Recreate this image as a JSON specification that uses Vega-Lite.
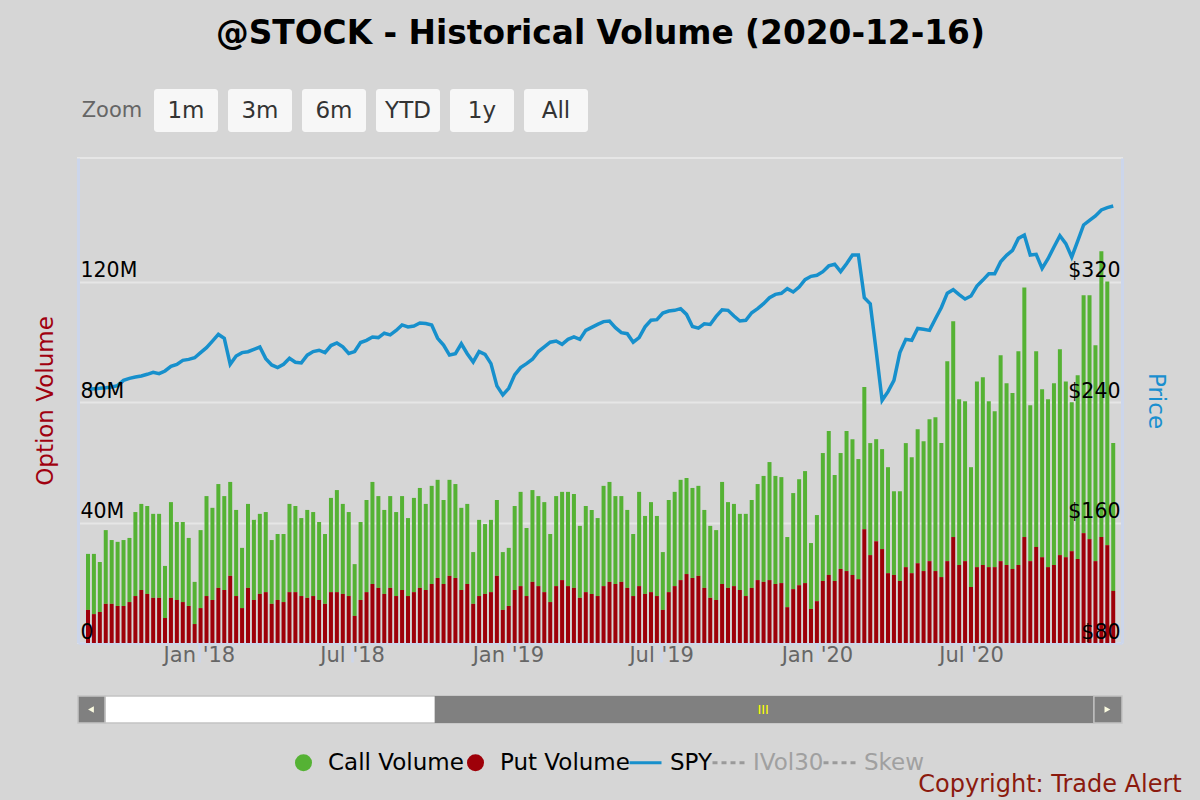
{
  "$schema": "https://vega.github.io/schema/vega-lite/v6.json",
  "background": "#d6d6d6",
  "padding": {"left": 33, "top": 18, "right": 20, "bottom": 6},
  "title": {
    "text": "@STOCK - Historical Volume (2020-12-16)",
    "fontSize": 32.8, "fontWeight": "bold", "color": "#000000",
    "anchor": "middle", "frame": "bounds", "offset": 38, "dx": -7
  },
  "datasets": {
    "weekly": [
      {"date": "2017-08-23", "call": 18.6, "put": 11.0, "spy": 248.5},
      {"date": "2017-08-30", "call": 20.0, "put": 9.6, "spy": 248.9},
      {"date": "2017-09-06", "call": 16.6, "put": 10.3, "spy": 249.2},
      {"date": "2017-09-13", "call": 24.5, "put": 13.0, "spy": 249.6},
      {"date": "2017-09-20", "call": 21.2, "put": 13.0, "spy": 250.1},
      {"date": "2017-09-27", "call": 21.3, "put": 12.3, "spy": 251.0},
      {"date": "2017-10-04", "call": 21.9, "put": 12.3, "spy": 254.5},
      {"date": "2017-10-11", "call": 21.3, "put": 13.6, "spy": 255.8},
      {"date": "2017-10-18", "call": 27.9, "put": 15.6, "spy": 256.7},
      {"date": "2017-10-25", "call": 28.6, "put": 17.6, "spy": 257.4},
      {"date": "2017-11-01", "call": 29.2, "put": 16.3, "spy": 258.5},
      {"date": "2017-11-08", "call": 27.9, "put": 15.0, "spy": 259.8},
      {"date": "2017-11-15", "call": 27.9, "put": 15.0, "spy": 258.9},
      {"date": "2017-11-22", "call": 17.3, "put": 8.3, "spy": 260.7},
      {"date": "2017-11-29", "call": 31.8, "put": 15.0, "spy": 263.8},
      {"date": "2017-12-06", "call": 25.9, "put": 14.3, "spy": 265.1},
      {"date": "2017-12-13", "call": 26.6, "put": 13.6, "spy": 267.8},
      {"date": "2017-12-20", "call": 22.6, "put": 12.3, "spy": 268.4},
      {"date": "2017-12-27", "call": 14.0, "put": 6.3, "spy": 269.5},
      {"date": "2018-01-03", "call": 25.9, "put": 11.6, "spy": 272.9},
      {"date": "2018-01-10", "call": 33.2, "put": 15.6, "spy": 276.2},
      {"date": "2018-01-17", "call": 30.6, "put": 14.3, "spy": 280.6},
      {"date": "2018-01-24", "call": 34.5, "put": 18.3, "spy": 285.0},
      {"date": "2018-01-31", "call": 31.2, "put": 17.6, "spy": 282.4},
      {"date": "2018-02-07", "call": 31.2, "put": 22.3, "spy": 265.1},
      {"date": "2018-02-14", "call": 28.6, "put": 15.6, "spy": 270.6},
      {"date": "2018-02-21", "call": 20.0, "put": 11.6, "spy": 272.9},
      {"date": "2018-02-28", "call": 27.9, "put": 18.3, "spy": 273.5},
      {"date": "2018-03-07", "call": 26.6, "put": 14.3, "spy": 275.1},
      {"date": "2018-03-14", "call": 26.6, "put": 16.3, "spy": 276.6},
      {"date": "2018-03-21", "call": 26.6, "put": 16.9, "spy": 268.9},
      {"date": "2018-03-28", "call": 21.2, "put": 13.0, "spy": 264.7},
      {"date": "2018-04-04", "call": 21.9, "put": 14.3, "spy": 263.0},
      {"date": "2018-04-11", "call": 22.6, "put": 13.6, "spy": 265.2},
      {"date": "2018-04-18", "call": 29.3, "put": 16.9, "spy": 269.2},
      {"date": "2018-04-25", "call": 28.6, "put": 16.9, "spy": 266.5},
      {"date": "2018-05-02", "call": 25.9, "put": 15.6, "spy": 266.1},
      {"date": "2018-05-09", "call": 29.2, "put": 15.0, "spy": 271.2},
      {"date": "2018-05-16", "call": 27.9, "put": 15.6, "spy": 273.6},
      {"date": "2018-05-23", "call": 25.9, "put": 14.3, "spy": 274.5},
      {"date": "2018-05-30", "call": 23.2, "put": 13.0, "spy": 272.9},
      {"date": "2018-06-06", "call": 31.3, "put": 16.9, "spy": 277.6},
      {"date": "2018-06-13", "call": 33.9, "put": 16.9, "spy": 279.3},
      {"date": "2018-06-20", "call": 29.9, "put": 16.3, "spy": 276.7},
      {"date": "2018-06-27", "call": 27.9, "put": 15.6, "spy": 272.3},
      {"date": "2018-07-04", "call": 17.2, "put": 9.0, "spy": 273.6},
      {"date": "2018-07-11", "call": 25.9, "put": 14.3, "spy": 279.6},
      {"date": "2018-07-18", "call": 30.6, "put": 16.9, "spy": 281.1},
      {"date": "2018-07-25", "call": 33.9, "put": 19.6, "spy": 283.3},
      {"date": "2018-08-01", "call": 30.5, "put": 18.3, "spy": 282.9},
      {"date": "2018-08-08", "call": 27.9, "put": 16.3, "spy": 285.8},
      {"date": "2018-08-15", "call": 30.5, "put": 18.3, "spy": 284.7},
      {"date": "2018-08-22", "call": 27.9, "put": 15.6, "spy": 287.6},
      {"date": "2018-08-29", "call": 31.2, "put": 17.6, "spy": 291.3},
      {"date": "2018-09-05", "call": 25.9, "put": 15.6, "spy": 290.0},
      {"date": "2018-09-12", "call": 31.3, "put": 16.9, "spy": 290.6},
      {"date": "2018-09-19", "call": 33.2, "put": 18.3, "spy": 292.6},
      {"date": "2018-09-26", "call": 28.6, "put": 17.6, "spy": 292.2},
      {"date": "2018-10-03", "call": 32.6, "put": 19.6, "spy": 291.3},
      {"date": "2018-10-10", "call": 32.6, "put": 21.6, "spy": 282.4},
      {"date": "2018-10-17", "call": 27.9, "put": 19.6, "spy": 277.9},
      {"date": "2018-10-24", "call": 31.9, "put": 22.3, "spy": 271.3},
      {"date": "2018-10-31", "call": 31.2, "put": 21.6, "spy": 272.2},
      {"date": "2018-11-07", "call": 27.3, "put": 17.6, "spy": 278.8},
      {"date": "2018-11-14", "call": 26.6, "put": 19.6, "spy": 272.2},
      {"date": "2018-11-21", "call": 17.2, "put": 13.0, "spy": 266.7},
      {"date": "2018-11-28", "call": 25.3, "put": 15.6, "spy": 273.6},
      {"date": "2018-12-05", "call": 23.2, "put": 16.3, "spy": 271.8},
      {"date": "2018-12-12", "call": 24.0, "put": 16.9, "spy": 265.6},
      {"date": "2018-12-19", "call": 25.2, "put": 22.3, "spy": 250.8},
      {"date": "2018-12-26", "call": 19.2, "put": 11.0, "spy": 244.8},
      {"date": "2019-01-02", "call": 19.3, "put": 12.3, "spy": 249.2},
      {"date": "2019-01-09", "call": 27.9, "put": 17.6, "spy": 258.1},
      {"date": "2019-01-16", "call": 31.3, "put": 18.9, "spy": 263.0},
      {"date": "2019-01-23", "call": 22.6, "put": 15.6, "spy": 265.6},
      {"date": "2019-01-30", "call": 30.5, "put": 20.3, "spy": 268.5},
      {"date": "2019-02-06", "call": 29.9, "put": 18.9, "spy": 273.6},
      {"date": "2019-02-13", "call": 29.9, "put": 16.9, "spy": 276.7},
      {"date": "2019-02-20", "call": 22.6, "put": 13.6, "spy": 279.8},
      {"date": "2019-02-27", "call": 29.9, "put": 18.9, "spy": 280.6},
      {"date": "2019-03-06", "call": 29.3, "put": 20.9, "spy": 278.4},
      {"date": "2019-03-13", "call": 31.3, "put": 18.9, "spy": 281.7},
      {"date": "2019-03-20", "call": 31.2, "put": 18.3, "spy": 283.3},
      {"date": "2019-03-27", "call": 23.9, "put": 15.0, "spy": 281.7},
      {"date": "2019-04-03", "call": 28.6, "put": 16.9, "spy": 287.7},
      {"date": "2019-04-10", "call": 27.9, "put": 16.3, "spy": 289.7},
      {"date": "2019-04-17", "call": 25.9, "put": 15.6, "spy": 291.7},
      {"date": "2019-04-24", "call": 33.3, "put": 18.9, "spy": 293.5},
      {"date": "2019-05-01", "call": 33.2, "put": 20.3, "spy": 293.9},
      {"date": "2019-05-08", "call": 29.2, "put": 19.6, "spy": 289.5},
      {"date": "2019-05-15", "call": 28.5, "put": 20.3, "spy": 286.2},
      {"date": "2019-05-22", "call": 25.9, "put": 18.3, "spy": 285.5},
      {"date": "2019-05-29", "call": 20.6, "put": 15.6, "spy": 279.8},
      {"date": "2019-06-05", "call": 31.3, "put": 18.9, "spy": 282.9},
      {"date": "2019-06-12", "call": 25.9, "put": 16.3, "spy": 290.0},
      {"date": "2019-06-19", "call": 29.9, "put": 16.9, "spy": 294.4},
      {"date": "2019-06-26", "call": 26.6, "put": 15.6, "spy": 294.8},
      {"date": "2019-07-03", "call": 19.2, "put": 11.0, "spy": 299.2},
      {"date": "2019-07-10", "call": 30.6, "put": 16.9, "spy": 300.5},
      {"date": "2019-07-17", "call": 31.3, "put": 18.9, "spy": 301.0},
      {"date": "2019-07-24", "call": 33.3, "put": 20.9, "spy": 302.1},
      {"date": "2019-07-31", "call": 31.9, "put": 22.9, "spy": 298.3},
      {"date": "2019-08-07", "call": 29.9, "put": 21.6, "spy": 290.3},
      {"date": "2019-08-14", "call": 29.9, "put": 22.3, "spy": 289.2},
      {"date": "2019-08-21", "call": 25.9, "put": 18.3, "spy": 292.1},
      {"date": "2019-08-28", "call": 23.9, "put": 15.0, "spy": 291.6},
      {"date": "2019-09-04", "call": 23.2, "put": 14.3, "spy": 297.0},
      {"date": "2019-09-11", "call": 33.9, "put": 19.6, "spy": 301.4},
      {"date": "2019-09-18", "call": 28.5, "put": 18.3, "spy": 301.0},
      {"date": "2019-09-25", "call": 27.3, "put": 18.9, "spy": 297.2},
      {"date": "2019-10-02", "call": 25.3, "put": 17.6, "spy": 293.9},
      {"date": "2019-10-09", "call": 27.3, "put": 15.6, "spy": 294.4},
      {"date": "2019-10-16", "call": 29.2, "put": 18.3, "spy": 299.4},
      {"date": "2019-10-23", "call": 31.9, "put": 20.9, "spy": 302.1},
      {"date": "2019-10-30", "call": 35.2, "put": 20.3, "spy": 305.4},
      {"date": "2019-11-06", "call": 39.2, "put": 20.9, "spy": 309.4},
      {"date": "2019-11-13", "call": 35.9, "put": 19.6, "spy": 311.6},
      {"date": "2019-11-20", "call": 35.2, "put": 19.9, "spy": 312.3},
      {"date": "2019-11-27", "call": 23.3, "put": 11.9, "spy": 315.4},
      {"date": "2019-12-04", "call": 31.9, "put": 17.9, "spy": 313.2},
      {"date": "2019-12-11", "call": 35.2, "put": 19.2, "spy": 316.5},
      {"date": "2019-12-18", "call": 37.2, "put": 19.9, "spy": 321.4},
      {"date": "2019-12-25", "call": 21.9, "put": 11.3, "spy": 323.6},
      {"date": "2020-01-01", "call": 28.6, "put": 13.9, "spy": 324.3},
      {"date": "2020-01-08", "call": 42.5, "put": 20.6, "spy": 326.7},
      {"date": "2020-01-15", "call": 47.8, "put": 22.6, "spy": 330.5},
      {"date": "2020-01-22", "call": 35.2, "put": 20.6, "spy": 331.6},
      {"date": "2020-01-29", "call": 38.5, "put": 24.6, "spy": 326.7},
      {"date": "2020-02-05", "call": 46.5, "put": 23.9, "spy": 332.0},
      {"date": "2020-02-12", "call": 45.1, "put": 22.6, "spy": 337.8},
      {"date": "2020-02-19", "call": 39.9, "put": 21.2, "spy": 337.8},
      {"date": "2020-02-26", "call": 47.2, "put": 37.8, "spy": 309.4},
      {"date": "2020-03-04", "call": 37.2, "put": 29.2, "spy": 305.4},
      {"date": "2020-03-11", "call": 33.9, "put": 33.8, "spy": 274.0},
      {"date": "2020-03-18", "call": 33.2, "put": 31.2, "spy": 241.2},
      {"date": "2020-03-25", "call": 35.2, "put": 23.2, "spy": 247.0},
      {"date": "2020-04-01", "call": 27.8, "put": 22.6, "spy": 254.5},
      {"date": "2020-04-08", "call": 29.8, "put": 20.6, "spy": 272.9},
      {"date": "2020-04-15", "call": 41.2, "put": 25.2, "spy": 281.7},
      {"date": "2020-04-22", "call": 38.5, "put": 23.2, "spy": 281.1},
      {"date": "2020-04-29", "call": 44.5, "put": 26.5, "spy": 289.0},
      {"date": "2020-05-06", "call": 43.1, "put": 23.9, "spy": 288.4},
      {"date": "2020-05-13", "call": 47.1, "put": 27.2, "spy": 287.7},
      {"date": "2020-05-20", "call": 51.1, "put": 23.9, "spy": 295.4},
      {"date": "2020-05-27", "call": 44.5, "put": 21.9, "spy": 302.9},
      {"date": "2020-06-03", "call": 66.4, "put": 27.2, "spy": 312.4},
      {"date": "2020-06-10", "call": 71.7, "put": 35.2, "spy": 314.7},
      {"date": "2020-06-17", "call": 55.1, "put": 25.9, "spy": 311.4},
      {"date": "2020-06-24", "call": 53.1, "put": 27.2, "spy": 308.5},
      {"date": "2020-07-01", "call": 39.8, "put": 18.6, "spy": 310.5},
      {"date": "2020-07-08", "call": 61.7, "put": 25.2, "spy": 317.1},
      {"date": "2020-07-15", "call": 62.4, "put": 25.9, "spy": 321.1},
      {"date": "2020-07-22", "call": 55.1, "put": 25.2, "spy": 325.3},
      {"date": "2020-07-29", "call": 51.8, "put": 25.2, "spy": 325.3},
      {"date": "2020-08-05", "call": 68.4, "put": 27.2, "spy": 333.2},
      {"date": "2020-08-12", "call": 60.4, "put": 25.9, "spy": 337.5},
      {"date": "2020-08-19", "call": 58.4, "put": 24.6, "spy": 340.8},
      {"date": "2020-08-26", "call": 71.0, "put": 25.9, "spy": 348.8},
      {"date": "2020-09-02", "call": 82.9, "put": 35.2, "spy": 351.0},
      {"date": "2020-09-09", "call": 51.8, "put": 27.2, "spy": 337.7},
      {"date": "2020-09-16", "call": 65.0, "put": 31.9, "spy": 338.2},
      {"date": "2020-09-23", "call": 55.8, "put": 28.5, "spy": 328.9},
      {"date": "2020-09-30", "call": 55.8, "put": 25.2, "spy": 335.3},
      {"date": "2020-10-07", "call": 60.4, "put": 25.9, "spy": 343.1},
      {"date": "2020-10-14", "call": 68.4, "put": 29.2, "spy": 350.6},
      {"date": "2020-10-21", "call": 58.4, "put": 28.5, "spy": 345.3},
      {"date": "2020-10-28", "call": 49.5, "put": 30.5, "spy": 336.4},
      {"date": "2020-11-04", "call": 61.0, "put": 27.9, "spy": 347.0},
      {"date": "2020-11-11", "call": 79.0, "put": 36.5, "spy": 357.7},
      {"date": "2020-11-18", "call": 81.0, "put": 34.5, "spy": 360.8},
      {"date": "2020-11-25", "call": 71.7, "put": 27.2, "spy": 363.7},
      {"date": "2020-12-02", "call": 94.9, "put": 35.2, "spy": 367.7},
      {"date": "2020-12-09", "call": 87.6, "put": 32.5, "spy": 369.2},
      {"date": "2020-12-16", "call": 49.1, "put": 17.3, "spy": 370.3}
    ],
    "zoom": [
      {"label": "Zoom"}, {"label": "1m"}, {"label": "3m"}, {"label": "6m"},
      {"label": "YTD"}, {"label": "1y"}, {"label": "All"}
    ],
    "scroll": [
      {"part": "button", "start": "2015-10-27", "end": "2015-12-16"},
      {"part": "track", "start": "2015-12-16", "end": "2020-12-19"},
      {"part": "thumb", "start": "2017-08-17", "end": "2020-12-19"},
      {"part": "button", "start": "2020-12-19", "end": "2021-02-09"}
    ],
    "arrows": [
      {"dir": "left", "at": "2015-11-20"},
      {"dir": "right", "at": "2021-01-13"}
    ],
    "grip": [
      {"at": "2019-04-17"}
    ]
  },
  "vconcat": [
    {
      "width": 512,
      "height": 43,
      "data": {"name": "zoom"},
      "layer": [
        {
          "transform": [{"filter": "datum.label != 'Zoom'"}],
          "mark": {"type": "rect", "fill": "#f7f7f7", "cornerRadius": 3},
          "encoding": {
            "x": {
              "field": "label", "type": "nominal", "sort": null, "axis": null,
              "scale": {"domain": ["Zoom", "1m", "3m", "6m", "YTD", "1y", "All"], "paddingInner": 0.135, "paddingOuter": 0.027}
            }
          }
        },
        {
          "mark": {"type": "text", "baseline": "middle"},
          "encoding": {
            "x": {
              "field": "label", "type": "nominal", "sort": null, "axis": null,
              "scale": {"domain": ["Zoom", "1m", "3m", "6m", "YTD", "1y", "All"], "paddingInner": 0.135, "paddingOuter": 0.027}
            },
            "text": {"field": "label"},
            "size": {"condition": {"test": "datum.label == 'Zoom'", "value": 21}, "value": 23},
            "color": {"condition": {"test": "datum.label == 'Zoom'", "value": "#666666"}, "value": "#333333"}
          }
        }
      ]
    },
    {
      "width": 1044,
      "height": 485,
      "view": {"stroke": "#e6e6e6", "strokeWidth": 2},
      "data": {"name": "weekly"},
      "layer": [
        {
          "mark": {"type": "point", "opacity": 0, "size": 0},
          "encoding": {
            "x": {"field": "date", "type": "temporal"},
            "y": {
              "field": "put", "type": "quantitative",
              "scale": {"domain": [0, 161.1], "nice": false},
              "axis": {
                "orient": "left", "values": [40, 80, 120], "title": null,
                "grid": true, "gridColor": "#e6e6e6", "gridWidth": 2,
                "labels": false, "ticks": false, "domain": false, "zindex": 0
              }
            }
          }
        },
        {
          "transform": [{"fold": ["call", "put"], "as": ["series", "volume"]}],
          "mark": {"type": "bar", "width": 4},
          "encoding": {
            "x": {
              "field": "date", "type": "temporal",
              "scale": {
                "type": "utc",
                "domain": [
                  {"year": 2017, "month": 8, "date": 17, "hours": 3, "utc": true},
                  {"year": 2020, "month": 12, "date": 20, "hours": 11, "utc": true}
                ]
              },
              "axis": {
                "title": null,
                "grid": false,
                "values": [
                  {"year": 2018, "month": 1, "date": 1, "utc": true},
                  {"year": 2018, "month": 7, "date": 1, "utc": true},
                  {"year": 2019, "month": 1, "date": 1, "utc": true},
                  {"year": 2019, "month": 7, "date": 1, "utc": true},
                  {"year": 2020, "month": 1, "date": 1, "utc": true},
                  {"year": 2020, "month": 7, "date": 1, "utc": true}
                ],
                "labelExpr": "utcFormat(datum.value, \"%b '%y\")",
                "labelFontSize": 21,
                "labelColor": "#666666",
                "labelPadding": -18,
                "labelFlush": false,
                "labelOverlap": false,
                "tickSize": 19,
                "tickWidth": 2.5,
                "tickColor": "#ccd6eb",
                "domainColor": "#ccd6eb",
                "domainWidth": 2.5
              }
            },
            "y": {
              "field": "volume", "type": "quantitative", "stack": "zero",
              "scale": {"domain": [0, 161.1], "nice": false},
              "axis": {
                "orient": "left",
                "values": [0, 40, 80, 120],
                "labelExpr": "datum.value == 0 ? '0' : datum.value + 'M'",
                "title": "Option Volume",
                "titleColor": "#a0000f",
                "titleFontSize": 23,
                "titleFontWeight": "normal",
                "titlePadding": 21,
                "labelAlign": "left",
                "labelBaseline": "alphabetic",
                "labelOffset": -5,
                "labelPadding": -2,
                "labelFontSize": 20.5,
                "labelColor": "#000000",
                "labelFlush": false,
                "labelOverlap": false,
                "ticks": false,
                "tickSize": 0,
                "domainColor": "#ccd6eb",
                "domainWidth": 3,
                "grid": false,
                "zindex": 1
              }
            },
            "color": {
              "field": "series", "type": "nominal",
              "scale": {
                "domain": ["call", "put", "spy", "ivol30", "skew"],
                "range": ["#55b234", "#9e0009", "#1790cc", "#9a9a9a", "#9a9a9a"]
              },
              "legend": {
                "orient": "none",
                "legendX": 214,
                "legendY": 662,
                "direction": "horizontal",
                "title": null,
                "padding": 0,
                "columnPadding": -7,
                "symbolSize": 1024,
                "labelOffset": 13,
                "labelFontSize": 23,
                "labelColor": "#000000",
                "labelLimit": 300,
                "labelExpr": "datum.value == 'call' ? 'Call Volume' : datum.value == 'put' ? 'Put Volume' : datum.value == 'spy' ? 'SPY' : datum.value == 'ivol30' ? 'IVol30' : 'Skew'",
                "encode": {
                  "symbols": {
                    "update": {
                      "shape": {"signal": "datum.value == 'call' || datum.value == 'put' ? 'circle' : 'stroke'"},
                      "size": {"signal": "datum.value == 'call' || datum.value == 'put' ? 290 : 1024"},
                      "fill": {"signal": "datum.value == 'call' || datum.value == 'put' ? scale('color', datum.value) : 'transparent'"},
                      "stroke": {"signal": "scale('color', datum.value)"},
                      "strokeWidth": {"signal": "datum.value == 'call' || datum.value == 'put' ? 0 : 3"},
                      "strokeDash": {"signal": "datum.value == 'ivol30' || datum.value == 'skew' ? [5, 4] : [1, 0]"},
                      "opacity": {"value": 1}
                    }
                  },
                  "labels": {
                    "update": {
                      "fill": {"signal": "datum.value == 'ivol30' || datum.value == 'skew' ? '#a0a0a0' : '#000000'"}
                    }
                  }
                }
              }
            },
            "order": {"field": "series", "sort": "descending"}
          }
        },
        {
          "mark": {"type": "line", "strokeWidth": 3.5},
          "encoding": {
            "x": {"field": "date", "type": "temporal"},
            "y": {
              "field": "spy", "type": "quantitative",
              "scale": {"domain": [80, 402.2], "nice": false, "zero": false},
              "axis": {
                "orient": "right",
                "values": [80, 160, 240, 320],
                "labelExpr": "'$' + datum.value",
                "title": "Price",
                "titleColor": "#1a8fcf",
                "titleFontSize": 23,
                "titleFontWeight": "normal",
                "titlePadding": 21,
                "labelAlign": "right",
                "labelBaseline": "alphabetic",
                "labelOffset": -5,
                "labelPadding": -2,
                "labelFontSize": 20.5,
                "labelColor": "#000000",
                "labelFlush": false,
                "labelOverlap": false,
                "ticks": false,
                "tickSize": 0,
                "domainColor": "#ccd6eb",
                "domainWidth": 3,
                "grid": false,
                "zindex": 1
              }
            },
            "color": {"datum": "spy"}
          }
        }
      ],
      "resolve": {"scale": {"y": "independent"}}
    },
    {
      "width": 1044,
      "height": 1,
      "data": {"name": "grip"},
      "mark": {"type": "text", "text": "", "opacity": 0},
      "encoding": {}
    },
    {
      "width": 1044,
      "height": 27,
      "title": {
        "text": "Copyright: Trade Alert",
        "orient": "bottom", "anchor": "end",
        "fontSize": 24, "fontWeight": "normal", "color": "#8b1a0e",
        "offset": 49, "dx": 59
      },
      "layer": [
        {
          "data": {"name": "scroll"},
          "transform": [{"filter": "datum.part == 'track'"}],
          "mark": {"type": "rect", "fill": "#ffffff", "stroke": "#c4c4c4", "strokeWidth": 1.5},
          "encoding": {
            "x": {
              "field": "start", "type": "temporal", "axis": null,
              "scale": {
                "type": "utc",
                "domain": [
                  {"year": 2015, "month": 10, "date": 27, "utc": true},
                  {"year": 2021, "month": 2, "date": 9, "utc": true}
                ]
              }
            },
            "x2": {"field": "end"}
          }
        },
        {
          "data": {"name": "scroll"},
          "transform": [{"filter": "datum.part == 'thumb'"}],
          "mark": {"type": "rect", "fill": "#808080"},
          "encoding": {
            "x": {"field": "start", "type": "temporal", "axis": null},
            "x2": {"field": "end"}
          }
        },
        {
          "data": {"name": "scroll"},
          "transform": [{"filter": "datum.part == 'button'"}],
          "mark": {"type": "rect", "fill": "#808080", "stroke": "#c4c4c4", "strokeWidth": 1.5},
          "encoding": {
            "x": {"field": "start", "type": "temporal", "axis": null},
            "x2": {"field": "end"}
          }
        },
        {
          "data": {"name": "arrows"},
          "mark": {"type": "point", "filled": true, "color": "#fafae0", "size": 45, "opacity": 1},
          "encoding": {
            "x": {"field": "at", "type": "temporal", "axis": null},
            "shape": {
              "field": "dir", "type": "nominal", "legend": null,
              "scale": {"domain": ["left", "right"], "range": ["triangle-left", "triangle-right"]}
            }
          }
        },
        {
          "data": {"name": "grip"},
          "mark": {"type": "text", "text": "III", "color": "#ffff00", "fontSize": 13, "baseline": "middle"},
          "encoding": {
            "x": {"field": "at", "type": "temporal", "axis": null}
          }
        }
      ]
    }
  ],
  "spacing": 26,
  "bounds": "flush",
  "config": {
    "font": "DejaVu Sans",
    "view": {"stroke": null},
    "axis": {"labelFont": "DejaVu Sans", "titleFont": "DejaVu Sans"},
    "legend": {"labelFont": "DejaVu Sans"},
    "title": {"font": "DejaVu Sans"},
    "text": {"font": "DejaVu Sans"}
  }
}
